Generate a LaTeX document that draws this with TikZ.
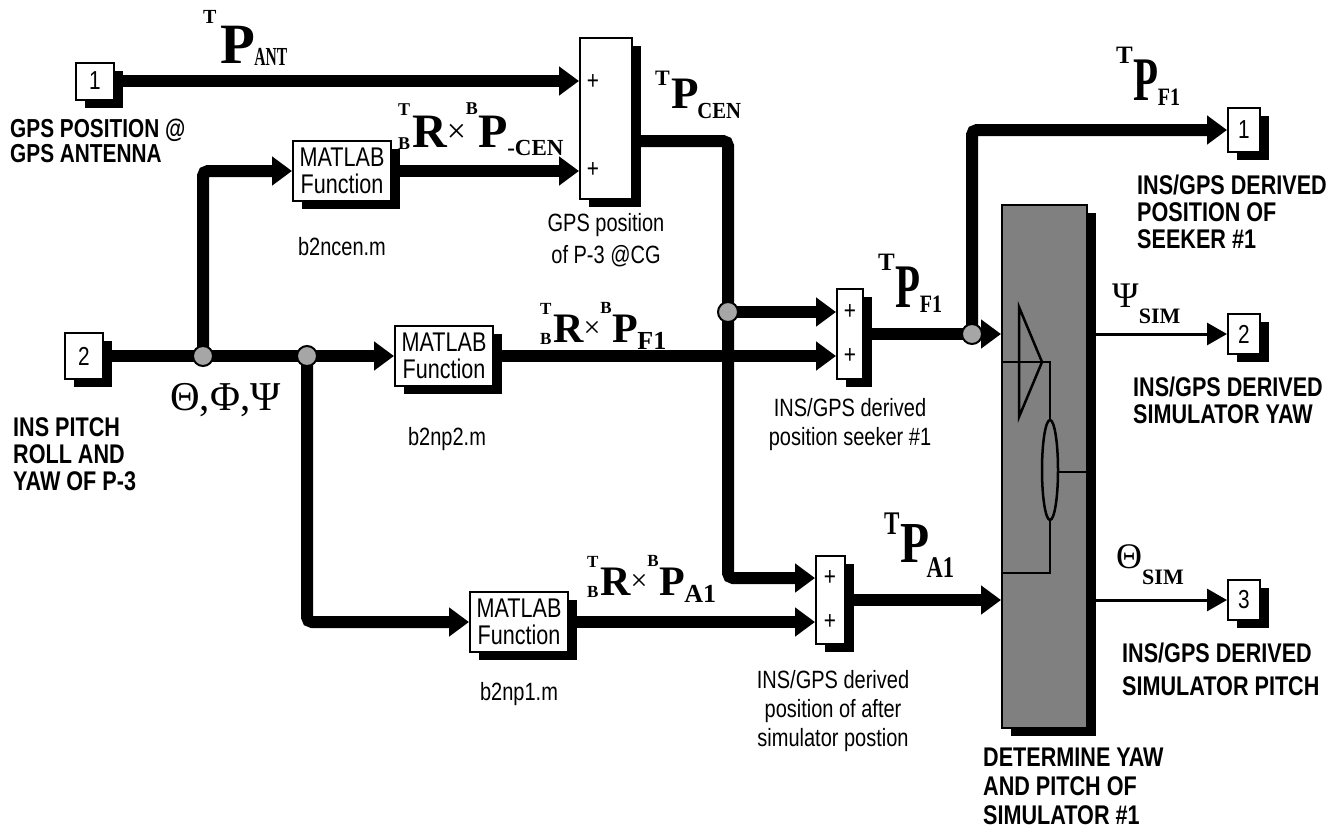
\documentclass[tikz,border=0pt]{standalone}
\usepackage{fontspec}
\usepackage{graphicx}
\setmainfont{Liberation Serif}
\newfontfamily\hv[FakeStretch=0.8]{Liberation Sans}
\usetikzlibrary{arrows.meta,shadows}
\newcommand\fs[1]{\fontsize{#1}{#1}\selectfont}
\newcommand\RxP[5]{{\bfseries\fs{#1}%
 \ooalign{\raisebox{0.65em}{\fs{#2}T}\cr\raisebox{-0.05em}{\fs{#2}B}\cr}%
 \kern0.04em R{\mdseries\raisebox{0.1em}{\fs{#3}×}}%
 \raisebox{0.68em}{\fs{#2}B}\kern0.02em P\kern-0.02em\raisebox{-0.18em}{\fs{#4}#5}}}
\begin{document}
\begin{tikzpicture}[x=1pt,y=-1pt,
 wire/.style={line width=12pt, rounded corners=5pt},
 arr/.style={-{Triangle[length=20pt,width=28pt]}},
 thinarr/.style={line width=3pt, -{Triangle[length=20pt,width=22pt]}},
 blk/.style={draw, line width=2pt, fill=white, inner sep=0pt,
   drop shadow={shadow xshift=9pt, shadow yshift=-8pt, fill=black, opacity=1}},
 port/.style={blk, font=\hv\fs{26}},
 fun/.style={blk, minimum width=98pt, minimum height=60pt, align=center,
   font=\hv\fontsize{27}{27}\selectfont},
 plus/.style={inner sep=0pt, font=\hv\fs{26}},
 jdot/.style={circle, draw, line width=2pt, fill=black!35, minimum size=20pt, inner sep=0pt},
 caps/.style={anchor=north west, inner sep=0pt, align=left},
 small/.style={anchor=north, inner sep=0pt, align=center},
 lbl/.style={anchor=base west, inner sep=0pt},
 inner/.style={line width=2.5pt}
]
\useasboundingbox (0,0) rectangle (1338,833);

% ---------- blocks
\node[port, minimum width=38pt, minimum height=37pt] (in1) at (95,81) {1};
\node[port, minimum width=38pt, minimum height=46pt] (in2) at (84,356) {2};
\node[port, minimum width=32pt, minimum height=44pt] (out1) at (1244,130) {1};
\node[port, minimum width=32pt, minimum height=40pt] (out2) at (1244,334) {2};
\node[port, minimum width=32pt, minimum height=40pt] (out3) at (1244,600) {3};
\node[fun] (fcen) at (342,171) {MATLAB\\Function};
\node[fun] (fnp2) at (444,356) {MATLAB\\Function};
\node[fun] (fnp1) at (519,622) {MATLAB\\Function};
\node[blk, minimum width=52pt, minimum height=161pt] (sum1) at (606,118.5) {};
\node[blk, minimum width=26pt, minimum height=90pt] (sum2) at (850,334) {};
\node[blk, minimum width=29pt, minimum height=88pt] (sum3) at (830.5,600) {};
\node[blk, fill=black!50, minimum width=85pt, minimum height=523pt] (big) at (1044.5,466.5) {};

\node[plus] (p1a) at (593,82) {+};
\node[plus] (p1b) at (593,170) {+};
\node[plus] (p2a) at (850,312) {+};
\node[plus] (p2b) at (850,356) {+};
\node[plus] (p3a) at (830,578) {+};
\node[plus] (p3b) at (830,622) {+};

% ---------- inside of the big block
\draw[inner] (1019,307) -- (1042,362) -- (1019,417) -- cycle;
\draw[inner] (big.west |- 0,362) -- (1050,362) -- (1050,420);
\draw[inner] (1050,470) ellipse[x radius=8, y radius=50];
\draw[inner] (1058,472) -- (big.east |- 0,472);
\draw[inner] (1050,520) -- (1050,573) -- (big.west |- 0,573);

% ---------- junctions and ports
\coordinate (j1) at (203,356);
\coordinate (j2) at (307,356);
\coordinate (k1) at (728,141);
\coordinate (j3) at (728,312);
\coordinate (j4) at (972,334);
\coordinate (s2a) at ([yshift=22pt]sum2.west);
\coordinate (s3a) at ([yshift=22pt]sum3.west);

% ---------- wires
\draw[wire,arr] (in1.east) -- (in1.east -| sum1.west);
\draw[wire,arr] (in2.east) -- (j1) -- (j2) -- (fnp2.west);
\draw[wire,arr] (j1) |- (fcen.west);
\draw[wire,arr] (j2) |- (fnp1.west);
\draw[wire,arr] (fcen.east) -- (fcen.east -| sum1.west);
\draw[wire,arr] (fnp2.east) -- (fnp2.east -| sum2.west);
\draw[wire,arr] (fnp1.east) -- (fnp1.east -| sum3.west);
\draw[wire,arr] (sum1.east |- k1) -- (k1) -- (j3) |- (s3a);
\draw[wire,arr] (j3) -- (s2a);
\draw[wire] (sum2.east) -- (j4);
\draw[wire,arr] (j4) -- (j4 -| big.west);
\draw[wire,arr] (j4) |- (out1.west);
\draw[wire,arr] (sum3.east) -- (sum3.east -| big.west);
\draw[thinarr] (big.east |- j4) -- (out2.west);
\draw[thinarr] (big.east |- sum3.east) -- (out3.west);

\node[jdot] (dt1) at (j1) {};
\node[jdot] (dt2) at (j2) {};
\node[jdot] (dt3) at (j3) {};
\node[jdot] (dt4) at (j4) {};

% ---------- signal labels
\node[lbl] (lant) at (203,63) {\bfseries\raisebox{40pt}{\fs{20}T}\kern4pt\fs{57}P\kern-1pt\raisebox{-2pt}{\scalebox{0.6}[1]{\fs{26}ANT}}};
\node[lbl] (lcen) at (655,108) {\bfseries\raisebox{23pt}{\fs{22}T}\kern2pt\fs{45}P\kern-2pt\raisebox{-10pt}{\scalebox{0.9}[1]{\fs{23}CEN}}};
\node[lbl] (lf1a) at (1116,100) {\bfseries\raisebox{37pt}{\fs{25}T}\kern1pt\scalebox{0.66}[1]{\fs{62}P}\kern-1pt\raisebox{-5pt}{\scalebox{0.8}[1]{\fs{25}F1}}};
\node[lbl] (lf1b) at (878,307) {\bfseries\raisebox{37pt}{\fs{25}T}\kern1pt\scalebox{0.66}[1]{\fs{62}P}\kern-1pt\raisebox{-5pt}{\scalebox{0.8}[1]{\fs{25}F1}}};
\node[lbl] (la1) at (884,562) {\bfseries\raisebox{28pt}{\scalebox{0.7}[1]{\fs{33}T}}\kern1pt\scalebox{0.82}[1]{\fs{58}P}\kern-3pt\raisebox{-15pt}{\scalebox{0.75}[1]{\fs{30}A1}}};
\node[lbl] (rcen) at (398,147) {\RxP{48}{18}{34}{23}{-CEN}};
\node[lbl] (rf1) at (540,342) {\RxP{42}{17}{30}{26}{F1}};
\node[lbl] (ra1) at (587,595) {\RxP{42}{17}{30}{26}{A1}};
\node[lbl] (lang) at (170,410) {\fs{41}Θ,Φ,Ψ};
\node[lbl] (lpsi) at (1112,307) {\fs{36}Ψ\raisebox{-16pt}{\bfseries\fs{22}SIM}};
\node[lbl] (lthe) at (1116,568) {\fs{36}Θ\raisebox{-16pt}{\bfseries\fs{22}SIM}};

% ---------- block captions
\node[small, font=\hv\fs{25}] (cfcen) at (342,237) {b2ncen.m};
\node[small, font=\hv\fs{25}] (cfnp2) at (447,427) {b2np2.m};
\node[small, font=\hv\fs{25}] (cfnp1) at (519,682) {b2np1.m};
\node[small, font=\hv\fontsize{25}{32}\selectfont] (csum1) at (606,213) {GPS position\\of P-3 @CG};
\node[small, font=\hv\fontsize{25}{29}\selectfont] (csum2) at (850,398) {INS/GPS derived\\position seeker \#1};
\node[small, font=\hv\fontsize{25}{29}\selectfont] (csum3) at (833,670) {INS/GPS derived\\position of after\\simulator postion};

\node[caps, font=\hv\bfseries\fontsize{26}{25}\selectfont] (cin1) at (10,119) {GPS POSITION @\\GPS ANTENNA};
\node[caps, font=\hv\bfseries\fontsize{27}{27}\selectfont] (cin2) at (13,417) {INS PITCH\\ROLL AND\\YAW OF P-3};
\node[caps, font=\hv\bfseries\fontsize{27}{27}\selectfont] (cout1) at (1137,175) {INS/GPS DERIVED\\POSITION OF\\SEEKER \#1};
\node[caps, font=\hv\bfseries\fontsize{27}{27}\selectfont] (cout2) at (1133,377) {INS/GPS DERIVED\\SIMULATOR YAW};
\node[caps, font=\hv\bfseries\fontsize{27}{33}\selectfont] (cout3) at (1122,643) {INS/GPS DERIVED\\SIMULATOR PITCH};
\node[caps, font=\hv\bfseries\fontsize{27}{29}\selectfont] (cbig) at (983,748) {DETERMINE YAW\\AND PITCH OF\\SIMULATOR \#1};
\end{tikzpicture}
\end{document}
